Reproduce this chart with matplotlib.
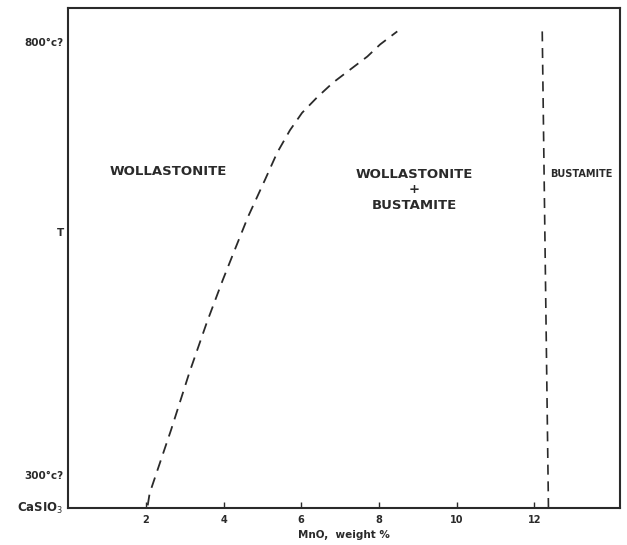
import matplotlib
matplotlib.use("Agg")
import matplotlib.pyplot as plt

# Phase boundary (wollastonite / wollastonite+bustamite), MnO wt% vs T (°C)
curve_mno = [2.05, 2.10, 2.65, 3.12, 3.57, 3.98, 4.29, 4.63, 5.07, 5.38, 5.71,
             6.02, 6.41, 6.82, 7.26, 7.70, 8.03, 8.47]
curve_t = [265, 279, 352, 418, 476, 525, 560, 598, 641, 672, 698,
           718, 736, 753, 768, 783, 797, 812]

# Bustamite boundary
bust_mno = [12.36, 12.20]
bust_t = [262, 812]

x_ticks = [2, 4, 6, 8, 10, 12]
x_ticklabels = ["2", "4", "6", "8", "10", "12"]
y_ticks = [300, 581, 800]
y_ticklabels = ["300°c?", "T", "800°c?"]

fig = plt.figure(figsize=(6.27, 5.45), dpi=100)
ax = fig.add_axes([0.1085, 0.0679, 0.8803, 0.9174])
ax.set_xlim(0, 14.2)
ax.set_ylim(262, 839)

ax.plot(curve_mno, curve_t, color="#2a2a2a", lw=1.3, linestyle=(0, (6, 4)))
ax.plot(bust_mno, bust_t, color="#2a2a2a", lw=1.2, linestyle=(0, (6, 4)))

for s in ax.spines.values():
    s.set_linewidth(1.5)
    s.set_color("#2a2a2a")

ax.set_xticks(x_ticks)
ax.set_xticklabels(x_ticklabels, fontsize=7, fontweight="bold", color="#2a2a2a")
ax.tick_params(axis="x", direction="in", length=4, width=1, color="#2a2a2a", pad=5)
ax.set_yticks(y_ticks)
ax.set_yticklabels(y_ticklabels, fontsize=7.5, fontweight="bold", color="#2a2a2a")
ax.tick_params(axis="y", length=0, pad=3)

ax.text(-0.12, 262, "CaSIO$_3$", fontsize=8.5, fontweight="bold", color="#2a2a2a",
        ha="right", va="center")

ax.set_xlabel("MnO,  weight %", fontsize=7.5, fontweight="bold", color="#2a2a2a", labelpad=4)

txt = dict(fontsize=9.5, fontweight="bold", color="#2a2a2a", ha="center", va="center")
ax.text(2.58, 650, "WOLLASTONITE", **txt)
ax.text(8.9, 629, "WOLLASTONITE\n+\nBUSTAMITE", linespacing=1.25, **txt)
ax.text(13.2, 648, "BUSTAMITE", fontsize=7, fontweight="bold", color="#2a2a2a",
        ha="center", va="center")

fig.savefig("out.png", dpi=100)
